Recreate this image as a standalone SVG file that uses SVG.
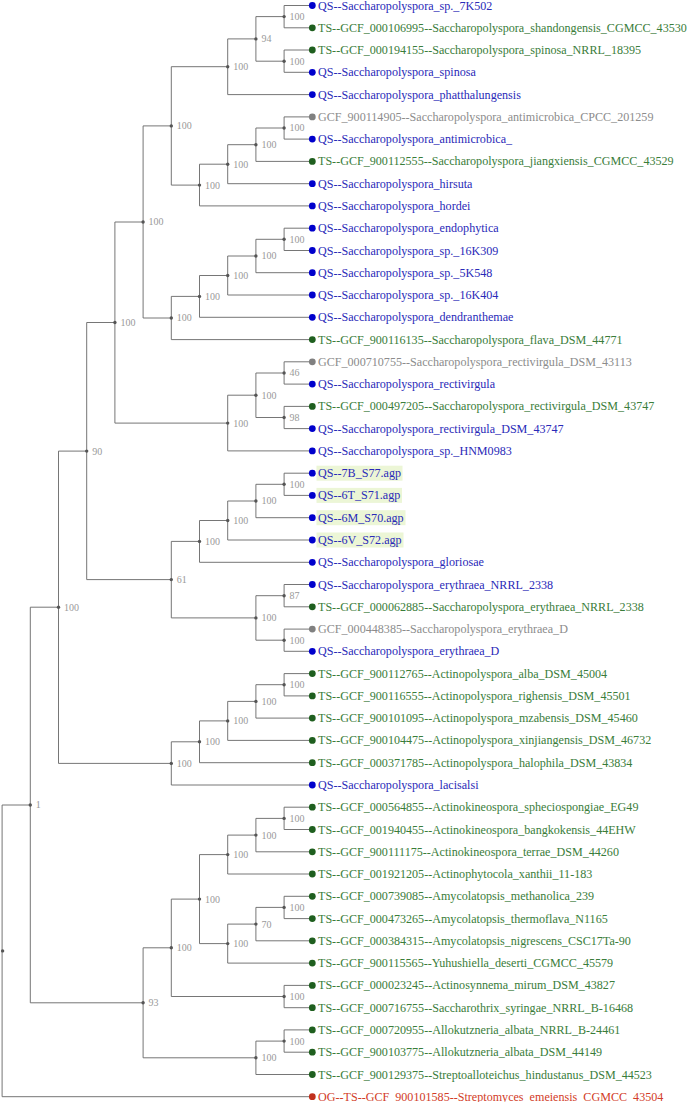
<svg xmlns="http://www.w3.org/2000/svg" width="693" height="1102" viewBox="0 0 693 1102">
<style>
text{font-family:"Liberation Serif","Times New Roman",serif;font-size:12.1px}
.e{fill:none;stroke:#666;stroke-width:0.9}
.n circle{fill:#555}
.n text{fill:#999;font-size:10px}
.qs circle{fill:#0000cc}.qs text{fill:#2a2ab8}
.ts circle{fill:#1f5f1f}.ts text{fill:#3a7d3a}
.gc circle{fill:#808080}.gc text{fill:#8c8c8c}
.og circle{fill:#c0301c}.og text{fill:#d23c28}
.hl{fill:#ecf6d6}
</style>
<rect width="693" height="1102" fill="#fff"/>
<g id="connectors" class="e">
<path d="M312.3 5.5H284.1V27.8H312.3"/>
<path d="M312.3 50H284.1V72.3H312.3"/>
<path d="M284.1 16.6H255.9V61.2H284.1"/>
<path d="M255.9 38.9H227.7V94.6H312.3"/>
<path d="M312.3 116.9H284.1V139.1H312.3"/>
<path d="M284.1 128H255.9V161.4H312.3"/>
<path d="M255.9 144.7H227.7V183.7H312.3"/>
<path d="M227.7 164.2H199.5V205.9H312.3"/>
<path d="M227.7 66.7H171.3V185.1H199.5"/>
<path d="M312.3 228.2H284.1V250.5H312.3"/>
<path d="M284.1 239.3H255.9V272.7H312.3"/>
<path d="M255.9 256H227.7V295H312.3"/>
<path d="M227.7 275.5H199.5V317.3H312.3"/>
<path d="M199.5 296.4H171.3V339.6H312.3"/>
<path d="M171.3 125.9H143.1V318H171.3"/>
<path d="M312.3 361.8H284.1V384.1H312.3"/>
<path d="M312.3 406.4H284.1V428.6H312.3"/>
<path d="M284.1 373H255.9V417.5H284.1"/>
<path d="M255.9 395.2H227.7V450.9H312.3"/>
<path d="M143.1 222H114.9V423.1H227.7"/>
<path d="M312.3 473.2H284.1V495.4H312.3"/>
<path d="M284.1 484.3H255.9V517.7H312.3"/>
<path d="M255.9 501H227.7V540H312.3"/>
<path d="M227.7 520.5H199.5V562.3H312.3"/>
<path d="M312.3 584.5H284.1V606.8H312.3"/>
<path d="M312.3 629.1H284.1V651.3H312.3"/>
<path d="M284.1 595.7H255.9V640.2H284.1"/>
<path d="M199.5 541.4H171.3V617.9H255.9"/>
<path d="M114.9 322.5H86.7V579.6H171.3"/>
<path d="M312.3 673.6H284.1V695.9H312.3"/>
<path d="M284.1 684.7H255.9V718.1H312.3"/>
<path d="M255.9 701.4H227.7V740.4H312.3"/>
<path d="M227.7 720.9H199.5V762.7H312.3"/>
<path d="M199.5 741.8H171.3V785H312.3"/>
<path d="M86.7 451.1H58.5V763.4H171.3"/>
<path d="M312.3 807.2H284.1V829.5H312.3"/>
<path d="M284.1 818.4H255.9V851.8H312.3"/>
<path d="M255.9 835.1H227.7V874H312.3"/>
<path d="M312.3 896.3H284.1V918.6H312.3"/>
<path d="M284.1 907.4H255.9V940.8H312.3"/>
<path d="M255.9 924.1H227.7V963.1H312.3"/>
<path d="M227.7 854.6H199.5V943.6H227.7"/>
<path d="M312.3 985.4H284.1V1007.7H312.3"/>
<path d="M199.5 899.1H171.3V996.5H284.1"/>
<path d="M312.3 1029.9H284.1V1052.2H312.3"/>
<path d="M284.1 1041.1H255.9V1074.5H312.3"/>
<path d="M171.3 947.8H143.1V1057.8H255.9"/>
<path d="M58.5 607.2H30.3V1002.8H143.1"/>
<path d="M30.3 805H2.1V1096.7H312.3"/>
</g>
<g id="internal-nodes">
<g id="nA" class="n"><circle cx="284.1" cy="16.6" r="1.7"/><text x="289.6" y="20">100</text></g>
<g id="nB" class="n"><circle cx="284.1" cy="61.2" r="1.7"/><text x="289.6" y="64.6">100</text></g>
<g id="nC" class="n"><circle cx="255.9" cy="38.9" r="1.7"/><text x="261.4" y="42.3">94</text></g>
<g id="nD" class="n"><circle cx="227.7" cy="66.7" r="1.7"/><text x="233.2" y="70.1">100</text></g>
<g id="nE" class="n"><circle cx="284.1" cy="128" r="1.7"/><text x="289.6" y="131.4">100</text></g>
<g id="nF" class="n"><circle cx="255.9" cy="144.7" r="1.7"/><text x="261.4" y="148.1">100</text></g>
<g id="nG" class="n"><circle cx="227.7" cy="164.2" r="1.7"/><text x="233.2" y="167.6">100</text></g>
<g id="nH" class="n"><circle cx="199.5" cy="185.1" r="1.7"/><text x="205" y="188.5">100</text></g>
<g id="nI" class="n"><circle cx="171.3" cy="125.9" r="1.7"/><text x="176.8" y="129.3">100</text></g>
<g id="nJ" class="n"><circle cx="284.1" cy="239.3" r="1.7"/><text x="289.6" y="242.7">100</text></g>
<g id="nK" class="n"><circle cx="255.9" cy="256" r="1.7"/><text x="261.4" y="259.4">100</text></g>
<g id="nM" class="n"><circle cx="227.7" cy="275.5" r="1.7"/><text x="233.2" y="278.9">100</text></g>
<g id="nN" class="n"><circle cx="199.5" cy="296.4" r="1.7"/><text x="205" y="299.8">100</text></g>
<g id="nO" class="n"><circle cx="171.3" cy="318" r="1.7"/><text x="176.8" y="321.4">100</text></g>
<g id="nP" class="n"><circle cx="143.1" cy="222" r="1.7"/><text x="148.6" y="225.4">100</text></g>
<g id="nQ" class="n"><circle cx="284.1" cy="373" r="1.7"/><text x="289.6" y="376.4">46</text></g>
<g id="nR" class="n"><circle cx="284.1" cy="417.5" r="1.7"/><text x="289.6" y="420.9">98</text></g>
<g id="nS" class="n"><circle cx="255.9" cy="395.2" r="1.7"/><text x="261.4" y="398.6">100</text></g>
<g id="nT" class="n"><circle cx="227.7" cy="423.1" r="1.7"/><text x="233.2" y="426.5">100</text></g>
<g id="nU" class="n"><circle cx="114.9" cy="322.5" r="1.7"/><text x="120.4" y="325.9">100</text></g>
<g id="nV" class="n"><circle cx="284.1" cy="484.3" r="1.7"/><text x="289.6" y="487.7">100</text></g>
<g id="nW" class="n"><circle cx="255.9" cy="501" r="1.7"/><text x="261.4" y="504.4">100</text></g>
<g id="nX" class="n"><circle cx="227.7" cy="520.5" r="1.7"/><text x="233.2" y="523.9">100</text></g>
<g id="nY" class="n"><circle cx="199.5" cy="541.4" r="1.7"/><text x="205" y="544.8">100</text></g>
<g id="nZ1" class="n"><circle cx="284.1" cy="595.7" r="1.7"/><text x="289.6" y="599.1">87</text></g>
<g id="nZ2" class="n"><circle cx="284.1" cy="640.2" r="1.7"/><text x="289.6" y="643.6">100</text></g>
<g id="nZ" class="n"><circle cx="255.9" cy="617.9" r="1.7"/><text x="261.4" y="621.3">100</text></g>
<g id="nAA" class="n"><circle cx="171.3" cy="579.6" r="1.7"/><text x="176.8" y="583">61</text></g>
<g id="nAB" class="n"><circle cx="86.7" cy="451.1" r="1.7"/><text x="92.2" y="454.5">90</text></g>
<g id="nAC" class="n"><circle cx="284.1" cy="684.7" r="1.7"/><text x="289.6" y="688.1">100</text></g>
<g id="nAD" class="n"><circle cx="255.9" cy="701.4" r="1.7"/><text x="261.4" y="704.8">100</text></g>
<g id="nAE" class="n"><circle cx="227.7" cy="720.9" r="1.7"/><text x="233.2" y="724.3">100</text></g>
<g id="nAF" class="n"><circle cx="199.5" cy="741.8" r="1.7"/><text x="205" y="745.2">100</text></g>
<g id="nAG" class="n"><circle cx="171.3" cy="763.4" r="1.7"/><text x="176.8" y="766.8">100</text></g>
<g id="nAH" class="n"><circle cx="58.5" cy="607.2" r="1.7"/><text x="64" y="610.6">100</text></g>
<g id="nBA" class="n"><circle cx="284.1" cy="818.4" r="1.7"/><text x="289.6" y="821.8">100</text></g>
<g id="nBB" class="n"><circle cx="255.9" cy="835.1" r="1.7"/><text x="261.4" y="838.5">100</text></g>
<g id="nBC" class="n"><circle cx="227.7" cy="854.6" r="1.7"/><text x="233.2" y="858">100</text></g>
<g id="nBD" class="n"><circle cx="284.1" cy="907.4" r="1.7"/><text x="289.6" y="910.8">100</text></g>
<g id="nBE" class="n"><circle cx="255.9" cy="924.1" r="1.7"/><text x="261.4" y="927.5">70</text></g>
<g id="nBF" class="n"><circle cx="227.7" cy="943.6" r="1.7"/><text x="233.2" y="947">100</text></g>
<g id="nBG" class="n"><circle cx="199.5" cy="899.1" r="1.7"/><text x="205" y="902.5">100</text></g>
<g id="nBH" class="n"><circle cx="284.1" cy="996.5" r="1.7"/><text x="289.6" y="999.9">100</text></g>
<g id="nBI" class="n"><circle cx="171.3" cy="947.8" r="1.7"/><text x="176.8" y="951.2">100</text></g>
<g id="nBJ" class="n"><circle cx="284.1" cy="1041.1" r="1.7"/><text x="289.6" y="1044.5">100</text></g>
<g id="nBK" class="n"><circle cx="255.9" cy="1057.8" r="1.7"/><text x="261.4" y="1061.2">100</text></g>
<g id="nBL" class="n"><circle cx="143.1" cy="1002.8" r="1.7"/><text x="148.6" y="1006.2">93</text></g>
<g id="nBM" class="n"><circle cx="30.3" cy="805" r="1.7"/><text x="35.8" y="808.4">1</text></g>
<g id="nRoot" class="n"><circle cx="2.6" cy="950.9" r="1.7"/></g>
</g>
<g id="leaves">
<g id="l0" class="qs"><circle cx="312.3" cy="5.5" r="3.4"/><text x="318" y="9.5">QS--Saccharopolyspora_sp._7K502</text></g>
<g id="l1" class="ts"><circle cx="312.3" cy="27.8" r="3.4"/><text x="318" y="31.8">TS--GCF_000106995--Saccharopolyspora_shandongensis_CGMCC_43530</text></g>
<g id="l2" class="ts"><circle cx="312.3" cy="50" r="3.4"/><text x="318" y="54">TS--GCF_000194155--Saccharopolyspora_spinosa_NRRL_18395</text></g>
<g id="l3" class="qs"><circle cx="312.3" cy="72.3" r="3.4"/><text x="318" y="76.3">QS--Saccharopolyspora_spinosa</text></g>
<g id="l4" class="qs"><circle cx="312.3" cy="94.6" r="3.4"/><text x="318" y="98.6">QS--Saccharopolyspora_phatthalungensis</text></g>
<g id="l5" class="gc"><circle cx="312.3" cy="116.9" r="3.4"/><text x="318" y="120.9">GCF_900114905--Saccharopolyspora_antimicrobica_CPCC_201259</text></g>
<g id="l6" class="qs"><circle cx="312.3" cy="139.1" r="3.4"/><text x="318" y="143.1">QS--Saccharopolyspora_antimicrobica_</text></g>
<g id="l7" class="ts"><circle cx="312.3" cy="161.4" r="3.4"/><text x="318" y="165.4">TS--GCF_900112555--Saccharopolyspora_jiangxiensis_CGMCC_43529</text></g>
<g id="l8" class="qs"><circle cx="312.3" cy="183.7" r="3.4"/><text x="318" y="187.7">QS--Saccharopolyspora_hirsuta</text></g>
<g id="l9" class="qs"><circle cx="312.3" cy="205.9" r="3.4"/><text x="318" y="209.9">QS--Saccharopolyspora_hordei</text></g>
<g id="l10" class="qs"><circle cx="312.3" cy="228.2" r="3.4"/><text x="318" y="232.2">QS--Saccharopolyspora_endophytica</text></g>
<g id="l11" class="qs"><circle cx="312.3" cy="250.5" r="3.4"/><text x="318" y="254.5">QS--Saccharopolyspora_sp._16K309</text></g>
<g id="l12" class="qs"><circle cx="312.3" cy="272.7" r="3.4"/><text x="318" y="276.7">QS--Saccharopolyspora_sp._5K548</text></g>
<g id="l13" class="qs"><circle cx="312.3" cy="295" r="3.4"/><text x="318" y="299">QS--Saccharopolyspora_sp._16K404</text></g>
<g id="l14" class="qs"><circle cx="312.3" cy="317.3" r="3.4"/><text x="318" y="321.3">QS--Saccharopolyspora_dendranthemae</text></g>
<g id="l15" class="ts"><circle cx="312.3" cy="339.6" r="3.4"/><text x="318" y="343.6">TS--GCF_900116135--Saccharopolyspora_flava_DSM_44771</text></g>
<g id="l16" class="gc"><circle cx="312.3" cy="361.8" r="3.4"/><text x="318" y="365.8">GCF_000710755--Saccharopolyspora_rectivirgula_DSM_43113</text></g>
<g id="l17" class="qs"><circle cx="312.3" cy="384.1" r="3.4"/><text x="318" y="388.1">QS--Saccharopolyspora_rectivirgula</text></g>
<g id="l18" class="ts"><circle cx="312.3" cy="406.4" r="3.4"/><text x="318" y="410.4">TS--GCF_000497205--Saccharopolyspora_rectivirgula_DSM_43747</text></g>
<g id="l19" class="qs"><circle cx="312.3" cy="428.6" r="3.4"/><text x="318" y="432.6">QS--Saccharopolyspora_rectivirgula_DSM_43747</text></g>
<g id="l20" class="qs"><circle cx="312.3" cy="450.9" r="3.4"/><text x="318" y="454.9">QS--Saccharopolyspora_sp._HNM0983</text></g>
<g id="l21" class="qs"><rect class="hl" x="316.5" y="465.7" width="86" height="15"/><circle cx="312.3" cy="473.2" r="3.4"/><text x="318" y="477.2">QS--7B_S77.agp</text></g>
<g id="l22" class="qs"><rect class="hl" x="316.5" y="487.9" width="85.5" height="15"/><circle cx="312.3" cy="495.4" r="3.4"/><text x="318" y="499.4">QS--6T_S71.agp</text></g>
<g id="l23" class="qs"><rect class="hl" x="316.5" y="510.2" width="89" height="15"/><circle cx="312.3" cy="517.7" r="3.4"/><text x="318" y="521.7">QS--6M_S70.agp</text></g>
<g id="l24" class="qs"><rect class="hl" x="316.5" y="532.5" width="87" height="15"/><circle cx="312.3" cy="540" r="3.4"/><text x="318" y="544">QS--6V_S72.agp</text></g>
<g id="l25" class="qs"><circle cx="312.3" cy="562.3" r="3.4"/><text x="318" y="566.3">QS--Saccharopolyspora_gloriosae</text></g>
<g id="l26" class="qs"><circle cx="312.3" cy="584.5" r="3.4"/><text x="318" y="588.5">QS--Saccharopolyspora_erythraea_NRRL_2338</text></g>
<g id="l27" class="ts"><circle cx="312.3" cy="606.8" r="3.4"/><text x="318" y="610.8">TS--GCF_000062885--Saccharopolyspora_erythraea_NRRL_2338</text></g>
<g id="l28" class="gc"><circle cx="312.3" cy="629.1" r="3.4"/><text x="318" y="633.1">GCF_000448385--Saccharopolyspora_erythraea_D</text></g>
<g id="l29" class="qs"><circle cx="312.3" cy="651.3" r="3.4"/><text x="318" y="655.3">QS--Saccharopolyspora_erythraea_D</text></g>
<g id="l30" class="ts"><circle cx="312.3" cy="673.6" r="3.4"/><text x="318" y="677.6">TS--GCF_900112765--Actinopolyspora_alba_DSM_45004</text></g>
<g id="l31" class="ts"><circle cx="312.3" cy="695.9" r="3.4"/><text x="318" y="699.9">TS--GCF_900116555--Actinopolyspora_righensis_DSM_45501</text></g>
<g id="l32" class="ts"><circle cx="312.3" cy="718.1" r="3.4"/><text x="318" y="722.1">TS--GCF_900101095--Actinopolyspora_mzabensis_DSM_45460</text></g>
<g id="l33" class="ts"><circle cx="312.3" cy="740.4" r="3.4"/><text x="318" y="744.4">TS--GCF_900104475--Actinopolyspora_xinjiangensis_DSM_46732</text></g>
<g id="l34" class="ts"><circle cx="312.3" cy="762.7" r="3.4"/><text x="318" y="766.7">TS--GCF_000371785--Actinopolyspora_halophila_DSM_43834</text></g>
<g id="l35" class="qs"><circle cx="312.3" cy="785" r="3.4"/><text x="318" y="789">QS--Saccharopolyspora_lacisalsi</text></g>
<g id="l36" class="ts"><circle cx="312.3" cy="807.2" r="3.4"/><text x="318" y="811.2">TS--GCF_000564855--Actinokineospora_spheciospongiae_EG49</text></g>
<g id="l37" class="ts"><circle cx="312.3" cy="829.5" r="3.4"/><text x="318" y="833.5">TS--GCF_001940455--Actinokineospora_bangkokensis_44EHW</text></g>
<g id="l38" class="ts"><circle cx="312.3" cy="851.8" r="3.4"/><text x="318" y="855.8">TS--GCF_900111175--Actinokineospora_terrae_DSM_44260</text></g>
<g id="l39" class="ts"><circle cx="312.3" cy="874" r="3.4"/><text x="318" y="878">TS--GCF_001921205--Actinophytocola_xanthii_11-183</text></g>
<g id="l40" class="ts"><circle cx="312.3" cy="896.3" r="3.4"/><text x="318" y="900.3">TS--GCF_000739085--Amycolatopsis_methanolica_239</text></g>
<g id="l41" class="ts"><circle cx="312.3" cy="918.6" r="3.4"/><text x="318" y="922.6">TS--GCF_000473265--Amycolatopsis_thermoflava_N1165</text></g>
<g id="l42" class="ts"><circle cx="312.3" cy="940.8" r="3.4"/><text x="318" y="944.8">TS--GCF_000384315--Amycolatopsis_nigrescens_CSC17Ta-90</text></g>
<g id="l43" class="ts"><circle cx="312.3" cy="963.1" r="3.4"/><text x="318" y="967.1">TS--GCF_900115565--Yuhushiella_deserti_CGMCC_45579</text></g>
<g id="l44" class="ts"><circle cx="312.3" cy="985.4" r="3.4"/><text x="318" y="989.4">TS--GCF_000023245--Actinosynnema_mirum_DSM_43827</text></g>
<g id="l45" class="ts"><circle cx="312.3" cy="1007.7" r="3.4"/><text x="318" y="1011.7">TS--GCF_000716755--Saccharothrix_syringae_NRRL_B-16468</text></g>
<g id="l46" class="ts"><circle cx="312.3" cy="1029.9" r="3.4"/><text x="318" y="1033.9">TS--GCF_000720955--Allokutzneria_albata_NRRL_B-24461</text></g>
<g id="l47" class="ts"><circle cx="312.3" cy="1052.2" r="3.4"/><text x="318" y="1056.2">TS--GCF_900103775--Allokutzneria_albata_DSM_44149</text></g>
<g id="l48" class="ts"><circle cx="312.3" cy="1074.5" r="3.4"/><text x="318" y="1078.5">TS--GCF_900129375--Streptoalloteichus_hindustanus_DSM_44523</text></g>
<g id="l49" class="og"><circle cx="312.3" cy="1096.7" r="3.4"/><text x="318" y="1100.7">OG--TS--GCF_900101585--Streptomyces_emeiensis_CGMCC_43504</text></g>
</g>
</svg>
